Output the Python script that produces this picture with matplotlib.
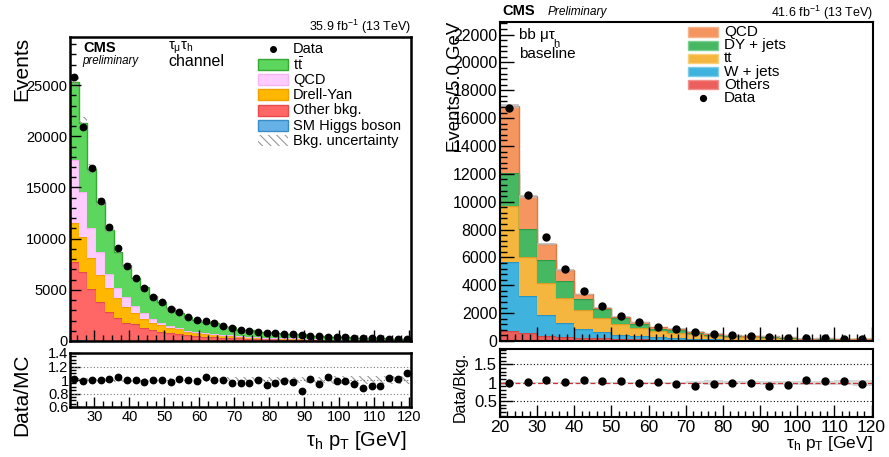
import numpy as np
import matplotlib
matplotlib.use('Agg')
import matplotlib.pyplot as plt
from matplotlib.patches import Rectangle
from matplotlib.lines import Line2D
from matplotlib.ticker import MultipleLocator, FuncFormatter

plt.rcParams['font.family'] = ['Liberation Sans', 'DejaVu Sans']
plt.rcParams['mathtext.fontset'] = 'custom'
plt.rcParams['mathtext.rm'] = 'Liberation Sans'
plt.rcParams['mathtext.it'] = 'Liberation Sans:italic'
plt.rcParams['mathtext.bf'] = 'Liberation Sans:bold'
plt.rcParams['hatch.linewidth'] = 0.8

# ---------------- tau_mu tau_h channel (35.9 fb^-1) ----------------
l_lo, l_binw, l_nbins = 23.0, 2.5, 39
l_data = [25800, 20900, 16900, 13700, 11100, 9110, 7360, 6120, 5140, 4330,
          3780, 3090, 2800, 2370, 2050, 1950, 1720, 1500, 1300, 1070,
          1010, 910, 780, 760, 680, 650, 590, 520, 460, 420,
          390, 360, 320, 290, 280, 260, 240, 220, 200]
l_higgs = [60, 50, 40, 35, 30, 25, 22, 20, 17, 15, 13, 11, 10, 9, 8, 7, 6, 6, 5, 5,
           4, 4, 4, 3, 3, 3, 3, 2, 2, 2, 2, 2, 2, 1, 1, 1, 1, 1, 1]
l_other = [7680, 6650, 5010, 3805, 2830, 2185, 1768, 1610, 1283, 1055,
           897, 769, 670, 550, 480, 420, 385, 330, 295, 240,
           225, 192, 173, 162, 140, 135, 138, 100, 94, 76,
           74, 67, 62, 59, 55, 50, 40, 37, 30]
l_dy = [3810, 3430, 3030, 2610, 2280, 1960, 1560, 1140, 850, 720,
        620, 520, 460, 360, 310, 275, 250, 215, 190, 155,
        145, 124, 112, 104, 90, 86, 88, 63, 60, 48,
        47, 42, 39, 37, 34, 31, 25, 23, 19]
l_qcd = [6130, 4450, 2920, 2270, 1400, 970, 980, 650, 620, 360,
         230, 160, 130, 105, 90, 78, 70, 58, 52, 42,
         38, 33, 29, 27, 23, 22, 22, 16, 15, 12,
         11, 10, 9, 8, 8, 7, 5, 5, 4]
l_ttbar = [7664, 6681, 5783, 4885, 4321, 3561, 3082, 2700, 2513, 2211,
           2047, 1716, 1470, 1346, 1197, 1082, 1021, 891, 815, 675,
           642, 563, 518, 497, 436, 428, 448, 330, 318, 263,
           263, 242, 228, 223, 210, 197, 162, 152, 128]
l_unc = [0.03, 0.03, 0.03, 0.03, 0.03, 0.03, 0.03, 0.03, 0.03, 0.03,
         0.03, 0.03, 0.035, 0.035, 0.035, 0.035, 0.035, 0.035, 0.04, 0.04,
         0.04, 0.04, 0.045, 0.045, 0.045, 0.045, 0.05, 0.05, 0.05, 0.05,
         0.055, 0.055, 0.055, 0.06, 0.06, 0.06, 0.06, 0.065, 0.065]

# ---------------- bb mu tau_h baseline (41.6 fb^-1) ----------------
r_lo, r_binw, r_nbins = 20.0, 5.0, 20
r_data = [16700, 10480, 7440, 5150, 3590, 2510, 1820, 1340, 1030, 840,
          620, 500, 410, 360, 310, 240, 190, 190, 140, 140]
r_others = [720, 550, 380, 310, 240, 190, 140, 120, 90, 75,
            60, 45, 36, 32, 30, 22, 16, 16, 12, 13]
r_wjets = [4970, 2680, 1490, 1010, 600, 430, 290, 240, 185, 150,
           115, 88, 70, 60, 56, 42, 30, 30, 22, 24]
r_tt = [4000, 2780, 2270, 1740, 1390, 1050, 790, 600, 420, 380,
        300, 235, 190, 170, 160, 122, 86, 89, 66, 72]
r_dy = [2350, 2010, 1670, 1250, 790, 630, 410, 260, 200, 170,
        125, 95, 75, 65, 60, 45, 31, 32, 24, 26]
r_qcd = [4830, 2380, 1140, 790, 335, 100, 120, 130, 105, 100,
         74, 52, 39, 33, 31, 22, 15, 16, 11, 12]
r_unc = [0.008, 0.01, 0.012, 0.012, 0.015, 0.018, 0.02, 0.025, 0.03, 0.03,
         0.035, 0.07, 0.04, 0.04, 0.05, 0.05, 0.06, 0.06, 0.07, 0.08]

W, H = 889, 457
fig = plt.figure(figsize=(W / 100, H / 100), dpi=100)


def box(x0, y0, x1, y1):
    return [x0 / W, 1 - y1 / H, (x1 - x0) / W, (y1 - y0) / H]


def fx(px):
    return px / W


def fy(py):
    return 1 - py / H


fmt_g = FuncFormatter(lambda v, p: '%g' % v)

# ============================ left panel ============================
axL = fig.add_axes(box(70, 37, 411, 341))
axLr = fig.add_axes(box(70, 353, 411, 407))

l_edges = l_lo + l_binw * np.arange(l_nbins + 1)
l_cent = 0.5 * (l_edges[:-1] + l_edges[1:])
l_layers = [
    (l_higgs, '#66b2e6', '#3a8cc8'),
    (l_other, '#ff6666', '#e64c4c'),
    (l_dy, '#ffb700', '#f0a000'),
    (l_qcd, '#ffccff', '#f5b5f5'),
    (l_ttbar, '#5cd65c', '#35a835'),
]
base = np.zeros(l_nbins)
for vals, fc, ec in l_layers:
    top = base + np.asarray(vals, float)
    axL.stairs(top, l_edges, baseline=base, fill=True, facecolor=fc, lw=0)
    axL.stairs(top, l_edges, baseline=None, color=ec, lw=1.0)
    base = top
l_total = base
l_u = np.asarray(l_unc)
axL.bar(l_edges[:-1], 2 * l_u * l_total, bottom=l_total * (1 - l_u), width=l_binw,
        align='edge', fill=False, hatch='\\\\\\\\', edgecolor='#9a9a9a', lw=0)
axL.plot(l_cent, l_data, 'o', color='black', ms=4.6, zorder=5)

axL.set_xlim(l_lo, l_edges[-1])
axL.set_ylim(0, 29700)
axL.yaxis.set_major_locator(MultipleLocator(5000))
axL.yaxis.set_minor_locator(MultipleLocator(1000))
axL.xaxis.set_major_locator(MultipleLocator(10))
axL.xaxis.set_minor_locator(MultipleLocator(2.5))
axL.tick_params(axis='both', which='major', direction='in', length=8, width=1,
                labelsize=10.5, pad=2)
axL.tick_params(axis='both', which='minor', direction='in', length=4, width=1)
axL.tick_params(axis='x', labelbottom=False)
for s in axL.spines.values():
    s.set_linewidth(1.8)

l_ratio = np.asarray(l_data) / l_total
axLr.bar(l_edges[:-1], 2 * l_u, bottom=1 - l_u, width=l_binw, align='edge',
         fill=False, hatch='\\\\\\\\', edgecolor='#9a9a9a', lw=0)
for yv in (0.8, 1.0, 1.2):
    axLr.axhline(yv, color='#777777', lw=0.8, ls=(0, (1, 2)))
axLr.plot(l_cent, l_ratio, 'o', color='black', ms=4.6, zorder=5)
axLr.set_xlim(l_lo, l_edges[-1])
axLr.set_ylim(0.6, 1.4)
axLr.yaxis.set_major_locator(MultipleLocator(0.2))
axLr.yaxis.set_minor_locator(MultipleLocator(0.05))
axLr.yaxis.set_major_formatter(fmt_g)
axLr.xaxis.set_major_locator(MultipleLocator(10))
axLr.xaxis.set_minor_locator(MultipleLocator(2.5))
axLr.tick_params(axis='both', which='major', direction='in', length=7, width=1,
                 labelsize=10.5, pad=2)
axLr.tick_params(axis='y', which='major', pad=1, labelsize=10.5)
axLr.tick_params(axis='both', which='minor', direction='in', length=4, width=1)
for s in axLr.spines.values():
    s.set_linewidth(1.8)

fig.text(fx(22), fy(37), 'Events', rotation=90, ha='center', va='top', fontsize=15)
fig.text(fx(22), fy(353), 'Data/MC', rotation=90, ha='center', va='top', fontsize=15)
fig.text(fx(406), fy(446), r'$\mathrm{τ_{h}}$ $\mathrm{p_{T}}$ [GeV]', ha='right',
         va='baseline', fontsize=14.5)
fig.text(fx(83), fy(48), 'CMS', fontweight='bold', fontsize=10.5, ha='left', va='center')
fig.text(fx(82), fy(61), 'preliminary', style='italic', fontsize=8.3, ha='left', va='center')
fig.text(fx(168), fy(48), r'$\mathrm{τ_{μ}τ_{h}}$', fontsize=10.5, ha='left', va='center')
fig.text(fx(168), fy(62), 'channel', fontsize=11.5, ha='left', va='center')
fig.text(fx(411), fy(27), r'35.9 fb$^{\mathrm{-1}}$ (13 TeV)', fontsize=9, ha='right',
         va='center')

l_leg = [
    ('data', 'Data', None, None),
    ('box', r'$\mathrm{t\bar{t}}$', '#5cd65c', '#35a835'),
    ('box', 'QCD', '#ffccff', '#f5b5f5'),
    ('box', 'Drell-Yan', '#ffb700', '#f0a000'),
    ('box', 'Other bkg.', '#ff6666', '#e64c4c'),
    ('box', 'SM Higgs boson', '#66b2e6', '#3a8cc8'),
    ('hatch', 'Bkg. uncertainty', None, '#9a9a9a'),
]
for i, (kind, lab, fc, ec) in enumerate(l_leg):
    yc = 49 + 15.3 * i
    if kind == 'data':
        fig.add_artist(Line2D([fx(273)], [fy(yc)], marker='o', color='black', ms=4,
                              transform=fig.transFigure))
    elif kind == 'box':
        fig.add_artist(Rectangle((fx(258), fy(yc + 5.5)), 30 / W, 11 / H,
                                 transform=fig.transFigure, facecolor=fc,
                                 edgecolor=ec, lw=1))
    else:
        fig.add_artist(Rectangle((fx(258), fy(yc + 5.5)), 30 / W, 11 / H,
                                 transform=fig.transFigure, fill=False,
                                 hatch='\\\\\\\\', edgecolor=ec, lw=0))
    fig.text(fx(293), fy(yc), lab, fontsize=10.5, ha='left', va='center')

# ============================ right panel ============================
axR = fig.add_axes(box(500, 21.7, 873, 341))
axRr = fig.add_axes(box(500, 349, 873, 417))

r_edges = r_lo + r_binw * np.arange(r_nbins + 1)
r_cent = 0.5 * (r_edges[:-1] + r_edges[1:])
r_layers = [
    (r_others, '#ec5f5c', '#c94a47'),
    (r_wjets, '#3fb2dd', '#2a95c2'),
    (r_tt, '#f4b63e', '#dc9c28'),
    (r_dy, '#46b862', '#2f9a4a'),
    (r_qcd, '#f5955f', '#d97a48'),
]
base = np.zeros(r_nbins)
for vals, fc, ec in r_layers:
    top = base + np.asarray(vals, float)
    axR.stairs(top, r_edges, baseline=base, fill=True, facecolor=fc, lw=0)
    axR.stairs(top, r_edges, baseline=None, color=ec, lw=1.0)
    base = top
r_total = base
r_u = np.asarray(r_unc)
axR.bar(r_edges[:-1], 2 * r_u * r_total, bottom=r_total * (1 - r_u), width=r_binw,
        align='edge', color='#bbbbbb', alpha=0.8, lw=0)
axR.plot(r_cent, r_data, 'o', color='black', ms=5, zorder=5)
axR.set_xlim(r_lo, 120.4)
axR.set_ylim(0, 22920)
axR.yaxis.set_major_locator(MultipleLocator(2000))
axR.yaxis.set_minor_locator(MultipleLocator(400))
axR.xaxis.set_major_locator(MultipleLocator(10))
axR.xaxis.set_minor_locator(MultipleLocator(2))
axR.tick_params(axis='both', which='major', direction='in', length=10, width=1,
                labelsize=11.5, pad=2)
axR.tick_params(axis='both', which='minor', direction='in', length=5, width=1)
axR.tick_params(axis='x', labelbottom=False)
for s in axR.spines.values():
    s.set_linewidth(1.5)

r_ratio = np.asarray(r_data) / r_total
axRr.bar(r_edges[:-1], 2 * r_u, bottom=1 - r_u, width=r_binw, align='edge',
         color='#d0d0d0', alpha=0.8, lw=0)
for yv in (0.5, 1.5):
    axRr.axhline(yv, color='black', lw=0.8, ls=(0, (1, 2)))
axRr.axhline(1.0, color='#cc3333', lw=0.9, ls=(0, (4, 2)))
axRr.plot(r_cent, r_ratio, 'o', color='black', ms=5, zorder=5)
axRr.set_xlim(r_lo, 120.4)
axRr.set_ylim(0.065, 1.92)
axRr.yaxis.set_major_locator(MultipleLocator(0.5))
axRr.yaxis.set_minor_locator(MultipleLocator(0.1))
axRr.yaxis.set_major_formatter(fmt_g)
axRr.xaxis.set_major_locator(MultipleLocator(10))
axRr.xaxis.set_minor_locator(MultipleLocator(2))
axRr.tick_params(axis='both', which='major', direction='in', length=9, width=1,
                 labelsize=12.5, pad=2)
axRr.tick_params(axis='y', which='major', labelsize=12)
axRr.tick_params(axis='both', which='minor', direction='in', length=4.5, width=1)
for s in axRr.spines.values():
    s.set_linewidth(1.5)

fig.text(fx(455), fy(22), 'Events/5.0 GeV', rotation=90, ha='center', va='top',
         fontsize=13.4)
fig.text(fx(460), fy(352), 'Data/Bkg.', rotation=90, ha='center', va='top', fontsize=11.5)
fig.text(fx(873), fy(448), r'$\mathrm{τ_{h}}$ $\mathrm{p_{T}}$ [GeV]', ha='right',
         va='baseline', fontsize=12.5)
fig.text(fx(502), fy(11), 'CMS', fontweight='bold', fontsize=10.5, ha='left', va='center')
fig.text(fx(548), fy(11.5), 'Preliminary', style='italic', fontsize=8.6, ha='left',
         va='center')
fig.text(fx(873), fy(12.5), r'41.6 fb$^{\mathrm{-1}}$ (13 TeV)', fontsize=9, ha='right',
         va='center')
fig.text(fx(519), fy(35), 'bb μτ', fontsize=11, ha='left', va='center')
fig.text(fx(553), fy(44), 'h', fontsize=8, ha='left', va='center')
fig.text(fx(519), fy(54), 'baseline', fontsize=11, ha='left', va='center')

r_leg = [
    ('box', 'QCD', '#f5955f', '#f8b48c'),
    ('box', 'DY + jets', '#46b862', '#7ccf92'),
    ('box', 'tt', '#f4b63e', '#f8cf7c'),
    ('box', 'W + jets', '#3fb2dd', '#80cbe8'),
    ('box', 'Others', '#ec5f5c', '#f29290'),
    ('data', 'Data', None, None),
]
for i, (kind, lab, fc, ec) in enumerate(r_leg):
    yc = 32 + 13.2 * i
    if kind == 'data':
        fig.add_artist(Line2D([fx(703)], [fy(yc)], marker='o', color='black', ms=4.2,
                              transform=fig.transFigure))
    else:
        fig.add_artist(Rectangle((fx(688), fy(yc + 4.5)), 30 / W, 9 / H,
                                 transform=fig.transFigure, facecolor=fc,
                                 edgecolor=ec, lw=1))
    fig.text(fx(724), fy(yc), lab, fontsize=11, ha='left', va='center')

fig.savefig('out.png', dpi=100)
